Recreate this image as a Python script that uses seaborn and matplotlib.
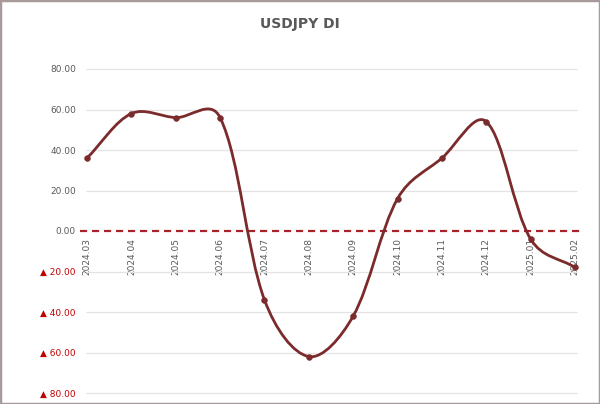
import numpy as np
import seaborn as sns
import matplotlib.pyplot as plt
from matplotlib.path import Path
from matplotlib.patches import PathPatch, Rectangle

# Data
months = ['2024.03', '2024.04', '2024.05', '2024.06', '2024.07', '2024.08',
          '2024.09', '2024.10', '2024.11', '2024.12', '2025.01', '2025.02']
di_values = [36, 58, 56, 56, -34, -62, -42, 16, 36, 54, -4, -18]
y_ticks = [80, 60, 40, 20, 0, -20, -40, -60, -80]

sns.set_style("white")
plt.rcParams['font.family'] = ['DejaVu Sans']

fig = plt.figure(figsize=(6, 4.04), dpi=100)
ax = fig.add_axes([80 / 600, 1 - 393 / 404, (583 - 80) / 600, (393 - 69) / 404])

x = np.arange(len(months))
y = np.array(di_values, dtype=float)
ax.set_xlim(-0.158, len(months) - 1 + 0.18)
ax.set_ylim(-80, 80)

# Excel-like smoothed line: Bezier segments, tangents weighted by
# (screen space) segment lengths
sx, sy = 44.36, 2.025  # px per data unit, used only for weighting
pts = np.column_stack([x, y])
ext = np.vstack([pts[0], pts, pts[-1]])


def seglen(a, b):
    return np.hypot((b[0] - a[0]) * sx, (b[1] - a[1]) * sy)


verts = [tuple(pts[0])]
codes = [Path.MOVETO]
for i in range(len(pts) - 1):
    p0, p1, p2, p3 = ext[i], ext[i + 1], ext[i + 2], ext[i + 3]
    d01, d12, d23 = seglen(p0, p1), seglen(p1, p2), seglen(p2, p3)
    f1 = np.sqrt(d12) / (np.sqrt(d01) + np.sqrt(d12)) / 3
    f2 = np.sqrt(d12) / (np.sqrt(d12) + np.sqrt(d23)) / 3
    c1 = p1 + (p2 - p0) * f1
    c2 = p2 - (p3 - p1) * f2
    verts += [tuple(c1), tuple(c2), tuple(p2)]
    codes += [Path.CURVE4] * 3
line_color = '#7b2b2b'
ax.add_patch(PathPatch(Path(verts, codes), facecolor='none', edgecolor=line_color,
                       lw=2, zorder=4, clip_on=False))
sns.scatterplot(x=x, y=y, ax=ax, color=line_color, s=18, edgecolor=line_color,
                zorder=5, clip_on=False, legend=False)

# grid lines and dashed zero line
ax.hlines([v for v in y_ticks if v != 0], -0.02, len(months) - 1 + 0.05,
          color='#e3e3e3', lw=0.9, zorder=1, clip_on=False)
ax.axhline(0, color='#a8232a', lw=1.6, ls=(0, (3.2, 2.2)), zorder=3)

ax.set_yticks(y_ticks)
ax.set_yticklabels([f'{v:.2f}' if v >= 0 else f'\u25b2 {abs(v):.2f}' for v in y_ticks],
                   fontsize=6.5)
for lab, v in zip(ax.get_yticklabels(), y_ticks):
    lab.set_color('#595959' if v >= 0 else '#c00000')
ax.tick_params(axis='y', length=0, pad=3)

# category labels sit under the zero line
ax.spines['bottom'].set_position(('data', 0))
ax.set_xticks(x)
ax.set_xticklabels(months, rotation=90, fontsize=6.5, color='#595959', va='top')
ax.tick_params(axis='x', length=0, pad=5)
for s in ax.spines.values():
    s.set_visible(False)
ax.set_xlabel('')
ax.set_ylabel('')

fig.text(0.5, 1 - 24 / 404, 'USDJPY DI', ha='center', va='center',
         fontsize=10, fontweight='bold', color='#595959')

fig.patches.append(Rectangle((0, 0), 1, 1, transform=fig.transFigure, fill=False,
                             edgecolor='#a89a9a', lw=2.5, zorder=10))

fig.savefig('out.png', dpi=100)
